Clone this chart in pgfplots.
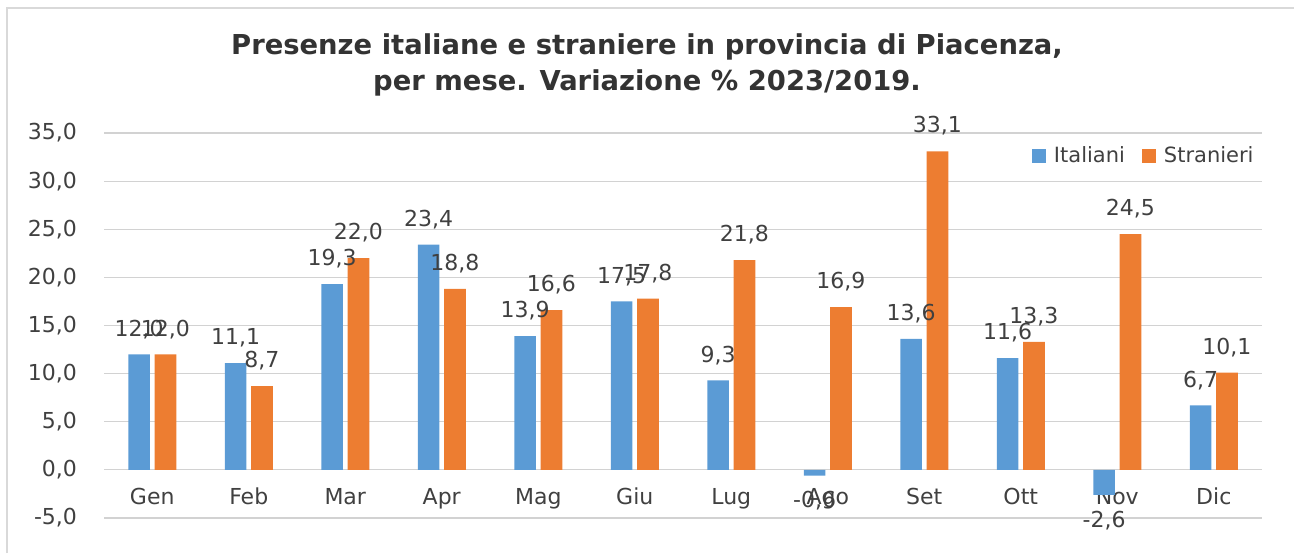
\documentclass[border=0pt]{standalone}
\usepackage{fontspec}
\setmainfont{DejaVu Sans}
\usepackage{pgfplots}
\pgfplotsset{compat=1.18}
\definecolor{ita}{HTML}{5B9BD5}
\definecolor{str}{HTML}{ED7D31}
\definecolor{txt}{HTML}{404040}

\begin{document}
\begin{tikzpicture}
\useasboundingbox (0,0) rectangle (647pt,276.5pt);
\draw[gray!30, line width=0.8pt] (3.5pt,0) -- (3.5pt,272.5pt) -- (647pt,272.5pt);
\node[font=\bfseries\fontsize{13.7}{16}\selectfont, text=txt!80!black, anchor=base] at (323.5pt,249pt) {Presenze italiane e straniere in provincia di Piacenza,};
\node[font=\bfseries\fontsize{13.7}{16}\selectfont, text=txt!80!black, anchor=base] at (323.5pt,231.5pt) {per mese. Variazione \% 2023/2019.};
\begin{axis}[at={(52pt,17.5pt)}, anchor=south west, scale only axis,
  width=579pt, height=192.5pt,
  ybar=2.4pt, bar width=10.8pt,
  xmin=-0.5, xmax=11.5, ymin=-5, ymax=35, ytick={-5,0,...,35},
  xtick=data,
  xticklabels={Gen,Feb,Mar,Apr,Mag,Giu,Lug,Ago,Set,Ott,Nov,Dic},
  axis line style={draw=none}, major tick length=0pt,
  ymajorgrids, grid style={gray!35, line width=0.6pt},
  /pgf/number format/.cd, fixed, fixed zerofill, precision=1, use comma, assume math mode=true, /pgfplots/.cd,
  tick label style={font=\fontsize{11}{13}\selectfont, text=txt},
  xticklabel style={anchor=base, yshift=6.75pt},
  yticklabel style={anchor=east, xshift=-10pt},
  nodes near coords,
  every node near coord/.append style={font=\fontsize{11}{13}\selectfont, text=txt, inner ysep=7.7pt},
  legend columns=2,
  legend style={at={(0.9965,0.94)}, anchor=east, draw=none, fill=none, inner sep=0pt,
    font=\fontsize{10.5}{12}\selectfont, text=txt,
    /tikz/every even column/.append style={column sep=6.5pt}},
  legend image code/.code={\fill[#1] (0pt,-3.5pt) rectangle (7pt,3.5pt); \path (9pt,0pt);},
  clip=false]
\addplot[fill=ita, draw=none] coordinates {(0,12.0) (1,11.1) (2,19.3) (3,23.4) (4,13.9) (5,17.5) (6,9.3) (7,-0.6) (8,13.6) (9,11.6) (10,-2.6) (11,6.7)};
\addplot[fill=str, draw=none] coordinates {(0,12.0) (1,8.7) (2,22.0) (3,18.8) (4,16.6) (5,17.8) (6,21.8) (7,16.9) (8,33.1) (9,13.3) (10,24.5) (11,10.1)};
\legend{Italiani, Stranieri}
\end{axis}
\end{tikzpicture}
\end{document}
